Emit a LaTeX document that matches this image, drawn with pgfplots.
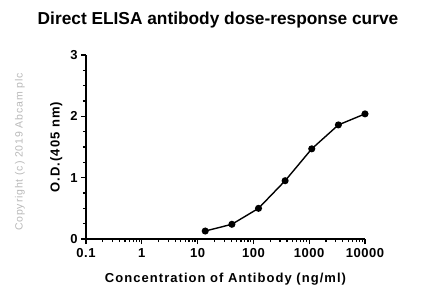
\documentclass[border=0pt]{standalone}
\usepackage{pgfplots}
\pgfplotsset{compat=1.18}
\usepackage{fontspec}
\setmainfont{Liberation Sans}
\newfontfamily\lsfont[LetterSpace=8]{Liberation Sans}
\newfontfamily\tkfont[LetterSpace=4]{Liberation Sans}
\newfontfamily\cpfont[LetterSpace=8]{Liberation Sans}
\begin{document}
\begin{tikzpicture}
\useasboundingbox (0,0) rectangle (426bp,299bp);
\begin{axis}[
  at={(86bp,60bp)}, anchor=south west,
  scale only axis, width=279bp, height=184bp,
  xmode=log, xmin=0.1, xmax=10000, ymin=0, ymax=3,
  axis lines=left, axis line style={-, line width=1.6bp},
  tick align=outside, tick style={black, line width=1.2bp},
  major tick length=5bp, minor tick length=3bp,
  xtick={0.1,1,10,100,1000,10000},
  xticklabels={0.1,1,10,100,1000,10000},
  ytick={0,1,2,3}, yticklabels={0,1,2,3},
  minor y tick num=3,
  ticklabel style={font=\tkfont\fontsize{13bp}{15bp}\selectfont\bfseries},
  xticklabel style={yshift=-1bp},
  xlabel={Concentration of Antibody (ng/ml)},
  ylabel={O.D.(405 nm)},
  label style={font=\lsfont\fontsize{13bp}{15bp}\selectfont\bfseries},
  xlabel style={yshift=-9bp},
  ylabel style={yshift=1bp},
  clip=false,
]
\addplot[black, line width=1.4bp, mark=*, mark size=2.8bp] coordinates {
  (13.7,0.13) (41.2,0.24) (123.5,0.50) (370.4,0.95) (1111,1.47) (3333,1.86) (10000,2.04)
};
\end{axis}
\node[font=\fontsize{17.3bp}{19bp}\selectfont\bfseries] at (218bp,279bp) {Direct ELISA antibody dose-response curve};
\node[rotate=90, text=black!28, font=\cpfont\fontsize{10.5bp}{12bp}\selectfont] at (20bp,147bp) {Copyright (c) 2019 Abcam plc};
\end{tikzpicture}
\end{document}
